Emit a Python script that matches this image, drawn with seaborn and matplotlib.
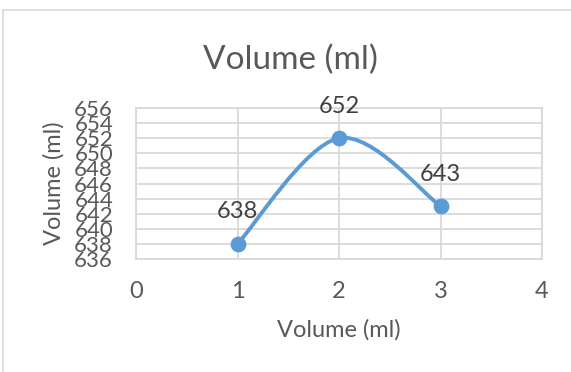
import numpy as np
import pandas as pd
import matplotlib.pyplot as plt
import seaborn as sns
from matplotlib.path import Path
from matplotlib.patches import PathPatch, Rectangle

# data
x_vals = [1, 2, 3]
volumes = [638, 652, 643]
point_labels = ["638", "652", "643"]
x_ticks = [0, 1, 2, 3, 4]
y_ticks = list(range(636, 657, 2))

blue = "#5B9BD5"
grey_text = "#595959"
grid_col = "#D9D9D9"

sns.set_theme(style="whitegrid")
plt.rcParams['font.family'] = ['Lato', 'DejaVu Sans']

df = pd.DataFrame({"x": x_vals, "vol": volumes})

fig = plt.figure(figsize=(5.71, 3.72), dpi=100)
ax = fig.add_axes([136 / 571, 1 - 259 / 372, (542 - 136) / 571, (259 - 108) / 372])

# smooth line like Excel (Catmull-Rom -> cubic bezier)
pts = np.array(list(zip(x_vals, volumes)), dtype=float)
verts = [tuple(pts[0])]
codes = [Path.MOVETO]
for i in range(len(pts) - 1):
    p0 = pts[i - 1] if i > 0 else pts[i]
    p1 = pts[i]
    p2 = pts[i + 1]
    p3 = pts[i + 2] if i + 2 < len(pts) else pts[i + 1]
    c1 = p1 + (p2 - p0) / 6
    c2 = p2 - (p3 - p1) / 6
    verts += [tuple(c1), tuple(c2), tuple(p2)]
    codes += [Path.CURVE4] * 3
ax.add_patch(PathPatch(Path(verts, codes), facecolor="none", edgecolor=blue,
                       lw=2.8, capstyle="round", zorder=3))

sns.scatterplot(data=df, x="x", y="vol", ax=ax, color=blue, s=130,
                edgecolor=blue, linewidth=0, zorder=4, legend=False)

for xv, yv, lab in zip(x_vals, volumes, point_labels):
    ax.annotate(lab, (xv, yv), xytext=(0, 23), textcoords="offset points",
                ha="center", va="center", fontsize=17, color="#404040")

ax.set_xlim(0, 4)
ax.set_ylim(636, 656)
ax.set_xticks(x_ticks)
ax.set_yticks(y_ticks)
ax.grid(True, color=grid_col, lw=1.3)
for s in ax.spines.values():
    s.set_color(grid_col)
    s.set_linewidth(1.3)
ax.tick_params(length=0, colors=grey_text)
ax.tick_params(axis="y", pad=16.5, labelsize=16)
ax.tick_params(axis="x", pad=16, labelsize=17)
ax.set_xlabel("Volume (ml)", fontsize=17, color=grey_text, labelpad=12)
ax.set_ylabel("Volume (ml)", fontsize=17, color=grey_text, labelpad=7)
fig.text(290 / 571, 1 - 60 / 372, "Volume (ml)", fontsize=24, color=grey_text,
         ha="center", va="center")

# outer chart border
fig.patches.append(Rectangle((3 / 571, -0.1), 1.2, 1 - 9.5 / 372 + 0.1,
                             transform=fig.transFigure, fill=False,
                             edgecolor=grid_col, lw=1.2))

fig.savefig("out.png", dpi=100)
